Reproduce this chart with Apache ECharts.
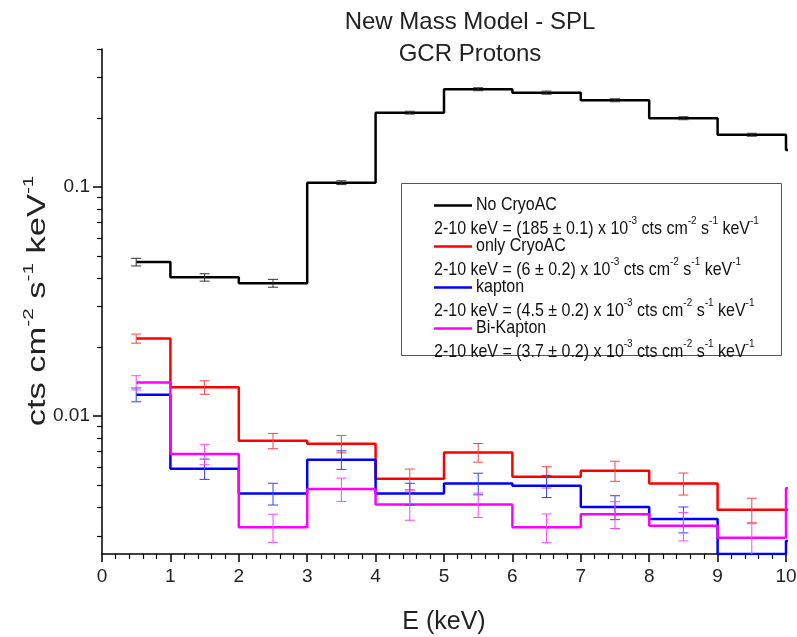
<!DOCTYPE html>
<html><head><meta charset="utf-8">
<script src="https://cdn.jsdelivr.net/npm/echarts@6/dist/echarts.min.js"></script>
<style>html,body{margin:0;padding:0;background:#fff}#c{width:797px;height:637px}</style>
</head><body><div id="c"></div>
<script>
// ---- data (bin centres in keV; last point lies beyond the axis and is clipped) ----
const binCenters = [0.5, 1.5, 2.5, 3.5, 4.5, 5.5, 6.5, 7.5, 8.5, 9.5, 10.5];
const noCryoAC    = [0.047, 0.0403, 0.038, 0.1044, 0.211, 0.267, 0.258, 0.239, 0.1995, 0.169, 0.145];
const noCryoACErr = [0.0018, 0.0015, 0.0015, 0.002, 0.003, 0.004, 0.004, 0.0035, 0.003, 0.0025];
const onlyCryoAC    = [0.0218, 0.01335, 0.0078, 0.00757, 0.00532, 0.00694, 0.00543, 0.00577, 0.00508, 0.0039, 0.0039];
const onlyCryoACErr = [0.001, 0.0009, 0.0006, 0.00066, 0.00055, 0.00065, 0.00058, 0.00058, 0.00056, 0.00048];
const kapton    = [0.0124, 0.00589, 0.00459, 0.00645, 0.00459, 0.00508, 0.00496, 0.00401, 0.00355, 0.0025, 0.00285];
const kaptonErr = [0.00086, 0.0006, 0.0005, 0.0006, 0.0005, 0.00055, 0.00055, 0.00048, 0.00046, 0];
const biKapton    = [0.014, 0.00683, 0.00327, 0.0048, 0.00411, 0.00411, 0.00327, 0.00373, 0.00332, 0.00294, 0.00484];
const biKaptonErr = [0.001, 0.0007, 0.00046, 0.00056, 0.0006, 0.0005, 0.00047, 0.0005, 0.00047, 0.00045];

const seriesNames = ['No CryoAC', 'only CryoAC', 'kapton', 'Bi-Kapton'];
const seriesRates = ['185 ± 0.1', '6 ± 0.2', '4.5 ± 0.2', '3.7 ± 0.2'];
const yMajorTicks = [0.01, 0.1];
const yMinorTicks = [0.003, 0.004, 0.005, 0.006, 0.007, 0.008, 0.009,
                     0.02, 0.03, 0.04, 0.05, 0.06, 0.07, 0.08, 0.09, 0.2, 0.3, 0.4];

const colors = ['#000000', '#ff0000', '#0000ff', '#ff00ff'];
const errColors = ['#333333', '#ff4444', '#3344ff', '#ff44ff'];
const FONT = 'Liberation Sans, Arial, sans-serif';

const chart = echarts.init(document.getElementById('c'), null, {renderer: 'canvas'});

function stepSeries(name, vals, color) {
  return {
    name, type: 'line', step: 'middle', symbol: 'none', showSymbol: false,
    data: binCenters.map((x, i) => [x, vals[i]]),
    lineStyle: {color, width: 2.5}, itemStyle: {color},
    clip: true, z: 2, animation: false
  };
}
function errSeries(vals, errs, color) {
  return {
    type: 'custom', clip: true, z: 3, animation: false,
    encode: {x: 0, y: [1, 2]},
    data: errs.map((e, i) => [binCenters[i], vals[i] - e, vals[i] + e]),
    renderItem(params, api) {
      const x = api.value(0), lo = api.value(1), hi = api.value(2);
      if (!(hi > lo)) return;
      const a = api.coord([x, lo]), b = api.coord([x, hi]);
      const hw = 5, st = {stroke: color, lineWidth: 1};
      return {type: 'group', children: [
        {type: 'line', shape: {x1: a[0], y1: a[1], x2: b[0], y2: b[1]}, style: st},
        {type: 'line', shape: {x1: a[0] - hw, y1: a[1], x2: a[0] + hw, y2: a[1]}, style: st},
        {type: 'line', shape: {x1: b[0] - hw, y1: b[1], x2: b[0] + hw, y2: b[1]}, style: st}
      ]};
    }
  };
}

// legend drawn as graphic
const graphics = [{
  type: 'rect', shape: {x: 401.5, y: 183.5, width: 380, height: 172},
  style: {fill: '#fff', stroke: '#555', lineWidth: 1}, z: 10
}];
const rowY = [205.5, 246.5, 287.5, 328.5];
seriesNames.forEach((n, i) => {
  graphics.push({type: 'line', shape: {x1: 434, y1: rowY[i], x2: 472, y2: rowY[i]},
    style: {stroke: colors[i], lineWidth: 2.5}, z: 11});
  graphics.push({type: 'text', x: 476, y: rowY[i], z: 11, scaleY: 1.12,
    style: {text: n, font: '16px ' + FONT, fill: '#111', verticalAlign: 'middle'}});
  graphics.push({type: 'text', x: 434, y: rowY[i] + 21, z: 11, scaleY: 1.12,
    style: {
      text: '{b|2-10 keV = (' + seriesRates[i] + ') x 10}{s|-3}{b| cts cm}{s|-2}{b| s}{s|-1}{b| keV}{s|-1}',
      verticalAlign: 'middle', fill: '#111',
      rich: {
        b: {fontSize: 16, fontFamily: FONT, lineHeight: 20, verticalAlign: 'bottom', fill: '#111'},
        s: {fontSize: 10, fontFamily: FONT, lineHeight: 20, verticalAlign: 'top', fill: '#111'}
      }
    }});
});
// y-axis title (stretched along its length like the reference)
graphics.push({
  type: 'text', x: 36, y: 301, rotation: Math.PI / 2, scaleX: 1.38, z: 11,
  style: {
    text: '{b|cts cm}{s|-2}{b| s}{s|-1}{b| keV}{s|-1}',
    align: 'center', verticalAlign: 'middle', fill: '#222',
    rich: {
      b: {fontSize: 25, fontFamily: FONT, lineHeight: 30, verticalAlign: 'bottom', fill: '#222'},
      s: {fontSize: 15, fontFamily: FONT, lineHeight: 30, verticalAlign: 'top', fill: '#222'}
    }
  }
});

const axisLineStyle = {color: '#000', width: 1.5};
chart.setOption({
  animation: false,
  backgroundColor: '#fff',
  title: {
    text: 'New Mass Model - SPL\nGCR Protons',
    left: 465, top: 1, textAlign: 'center',
    textStyle: {fontSize: 24, fontWeight: 'normal', color: '#222', lineHeight: 32, fontFamily: FONT}
  },
  grid: {left: 102, right: 11, top: 49, bottom: 83, containLabel: false, outerBoundsMode: 'none'},
  xAxis: {
    type: 'value', min: 0, max: 10, interval: 1,
    axisLine: {show: true, onZero: false, lineStyle: axisLineStyle},
    axisTick: {show: true, inside: false, length: 8, lineStyle: axisLineStyle},
    minorTick: {show: true, splitNumber: 5, length: 5, lineStyle: {color: '#000', width: 1.2}},
    axisLabel: {fontSize: 19, color: '#222', margin: 13, fontFamily: FONT},
    splitLine: {show: false},
    name: 'E (keV)', nameLocation: 'middle', nameGap: 56,
    nameTextStyle: {fontSize: 25, color: '#222', fontFamily: FONT}
  },
  yAxis: [{
    type: 'log', logBase: 10, min: 0.0025, max: 0.4, position: 'left',
    axisLine: {show: true, lineStyle: axisLineStyle},
    axisTick: {show: true, inside: false, length: 9, customValues: yMajorTicks, lineStyle: axisLineStyle},
    axisLabel: {customValues: yMajorTicks, fontSize: 19, color: '#222', margin: 12, fontFamily: FONT},
    splitLine: {show: false}
  }, {
    type: 'log', logBase: 10, min: 0.0025, max: 0.4, position: 'left', offset: 0,
    axisLine: {show: false},
    axisTick: {show: true, inside: false, length: 5, customValues: yMinorTicks, lineStyle: {color: '#000', width: 1.2}},
    axisLabel: {show: false},
    splitLine: {show: false}
  }],
  series: [
    stepSeries(seriesNames[0], noCryoAC, colors[0]),
    stepSeries(seriesNames[1], onlyCryoAC, colors[1]),
    stepSeries(seriesNames[2], kapton, colors[2]),
    stepSeries(seriesNames[3], biKapton, colors[3]),
    errSeries(noCryoAC, noCryoACErr, errColors[0]),
    errSeries(onlyCryoAC, onlyCryoACErr, errColors[1]),
    errSeries(kapton, kaptonErr, errColors[2]),
    errSeries(biKapton, biKaptonErr, errColors[3])
  ],
  graphic: graphics
});
</script>
</body></html>
